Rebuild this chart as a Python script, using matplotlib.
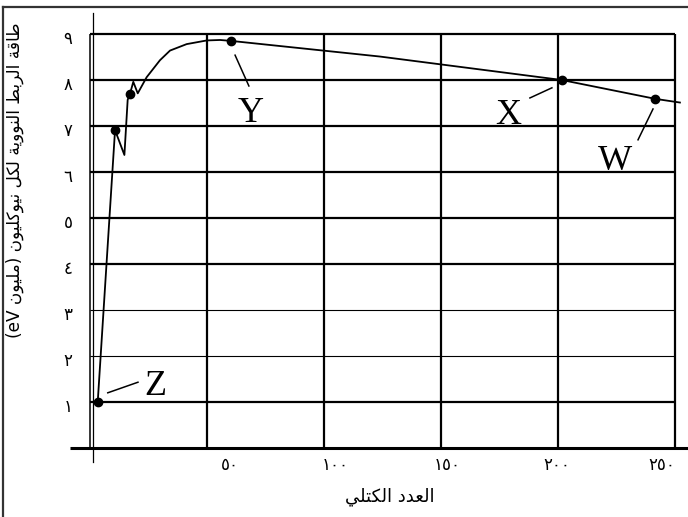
import re
import matplotlib
matplotlib.use("Agg")
import matplotlib.pyplot as plt
from matplotlib.lines import Line2D

# curve: mass number vs binding energy per nucleon (MeV)
mass_number = [3.3, 10.7, 14.7, 16.1, 17.1, 18.5, 20.4, 24.2, 29.9, 34.2,
               41.3, 49.9, 55.6, 60.3, 123.9, 201.6, 241.6, 252.1]
binding_energy = [1.0, 6.91, 6.37, 7.57, 7.70, 7.96, 7.71, 8.06, 8.43, 8.64,
                  8.78, 8.86, 8.87, 8.85, 8.51, 8.0, 7.59, 7.51]

# marked nuclei
dot_mass = [3.3, 10.7, 17.1, 60.3, 201.6, 241.6]
dot_energy = [1.0, 6.91, 7.70, 8.85, 8.0, 7.59]

point_names = ['Z', 'Y', 'X', 'W']
name_x = [27.8, 68.8, 178.6, 224.4]
name_y = [1.15, 7.09, 7.04, 6.04]
leader_x = [(7.6, 20.5), (62.0, 67.9), (188.0, 197.4), (234.2, 240.6)]
leader_y = [(1.20, 1.43), (8.54, 7.87), (7.61, 7.83), (6.70, 7.37)]

grid_x = [0, 50, 100, 150, 200, 250]
grid_y = [1, 2, 3, 4, 5, 6, 7, 8, 9]
thin_rows = [2, 3]
y_tick_labels = ['١', '٢', '٣', '٤', '٥', '٦', '٧', '٨', '٩']
x_tick_pos = [59.8, 104.7, 152.6, 199.6, 244.4]
x_tick_labels = ['٥٠', '١٠٠', '١٥٠', '٢٠٠', '٢٥٠']

ylabel = 'طاقة الربط النووية لكل نيوكليون (مليون eV)'
xlabel = 'العدد الكتلي'

# isolated, final, initial, medial presentation forms
FORMS = {
    'ا': (0xFE8D, 0xFE8E, None, None),
    'ب': (0xFE8F, 0xFE90, 0xFE91, 0xFE92),
    'ة': (0xFE93, 0xFE94, None, None),
    'ت': (0xFE95, 0xFE96, 0xFE97, 0xFE98),
    'د': (0xFEA9, 0xFEAA, None, None),
    'ر': (0xFEAD, 0xFEAE, None, None),
    'ط': (0xFEC1, 0xFEC2, 0xFEC3, 0xFEC4),
    'ع': (0xFEC9, 0xFECA, 0xFECB, 0xFECC),
    'ق': (0xFED5, 0xFED6, 0xFED7, 0xFED8),
    'ك': (0xFED9, 0xFEDA, 0xFEDB, 0xFEDC),
    'ل': (0xFEDD, 0xFEDE, 0xFEDF, 0xFEE0),
    'م': (0xFEE1, 0xFEE2, 0xFEE3, 0xFEE4),
    'ن': (0xFEE5, 0xFEE6, 0xFEE7, 0xFEE8),
    'و': (0xFEED, 0xFEEE, None, None),
    'ي': (0xFEF1, 0xFEF2, 0xFEF3, 0xFEF4),
}


def arabic(text):
    out = []
    for i, c in enumerate(text):
        if c not in FORMS:
            out.append(c)
            continue
        f = FORMS[c]
        prev = text[i - 1] if i > 0 else ''
        nxt = text[i + 1] if i + 1 < len(text) else ''
        jp = prev in FORMS and FORMS[prev][2] is not None
        jn = f[2] is not None and nxt in FORMS
        if jp and jn:
            code = f[3]
        elif jp:
            code = f[1]
        elif jn:
            code = f[2]
        else:
            code = f[0]
        out.append(chr(code))
    s = ''.join(out[::-1]).translate(str.maketrans('()', ')('))
    return re.sub(r'[A-Za-z]+', lambda m: m.group(0)[::-1], s)


W, H = 688, 517
fig = plt.figure(figsize=(W / 100, H / 100), dpi=100)
# axes box in pixels: x 80..688, y 10..455
ax = fig.add_axes([80 / W, (H - 455) / H, 608 / W, 445 / H])
ax.set_xlim(-10 / 2.34, 598 / 2.34)
ax.set_ylim(-7 / 46, 438 / 46)
ax.axis('off')

for gy in grid_y:
    ax.plot([grid_x[0], grid_x[-1]], [gy, gy], color='black',
            lw=0.8 if gy in thin_rows else 1.6, solid_capstyle='butt')
for gx in grid_x:
    ax.plot([gx, gx], [0, grid_y[-1]], color='black', lw=1.6 if gx else 1.1,
            solid_capstyle='butt')

# axes lines
ax.plot([-8.5, 256], [0, 0], color='black', lw=2.2, clip_on=False,
        solid_capstyle='butt')
ax.plot([1.4, 1.4], [-0.3, 9.46], color='black', lw=0.9, clip_on=False)

ax.plot(mass_number, binding_energy, color='black', lw=1.3, clip_on=False)
ax.plot(dot_mass, dot_energy, 'o', color='black', ms=6)

for name, tx, ty, lx, ly in zip(point_names, name_x, name_y, leader_x, leader_y):
    ax.plot(lx, ly, color='black', lw=1.1)
    ax.text(tx, ty, name, ha='center', va='baseline', fontsize=26,
            family='Liberation Serif')

for gy, lab in zip(grid_y, y_tick_labels):
    ax.text(-9.4, gy - 0.11, lab, ha='center', va='center', fontsize=12,
            family='DejaVu Sans')
for tx, lab in zip(x_tick_pos, x_tick_labels):
    ax.text(tx, -0.38, lab, ha='center', va='center', fontsize=12,
            family='DejaVu Sans')

fig.text(390 / W, 1 - 497 / H, arabic(xlabel), ha='center', va='center',
         fontsize=13, family='DejaVu Sans')
fig.text(15 / W, 1 - 180 / H, arabic(ylabel), ha='center', va='center',
         rotation=90, fontsize=12.2, family='DejaVu Sans')

# page frame (top and left edges)
fig.add_artist(Line2D([3 / W, 1], [1 - 7 / H] * 2, color='#333333', lw=1.6))
fig.add_artist(Line2D([3 / W] * 2, [0, 1 - 7 / H], color='#333333', lw=1.6))

fig.savefig('out.png', dpi=100)
